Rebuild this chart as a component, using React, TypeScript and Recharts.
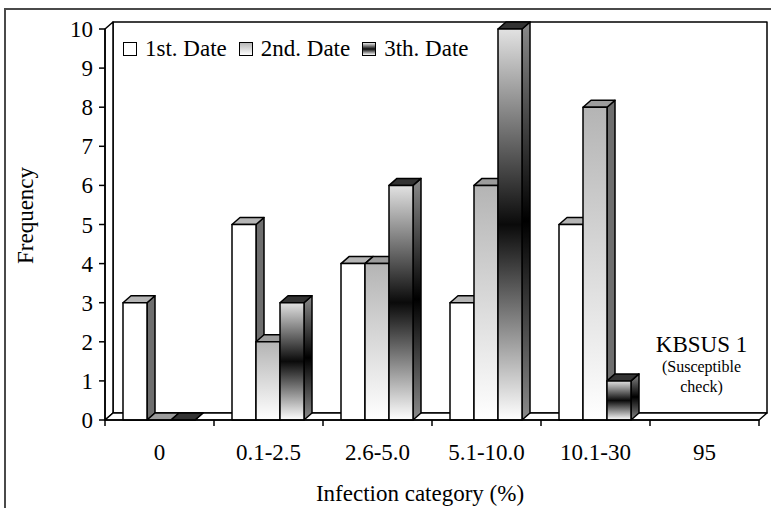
import React from 'react';
import { BarChart, Bar, XAxis, YAxis, Legend, ReferenceArea, ReferenceDot, Label } from 'recharts';

// Frequency of plants per infection category, for three assessment dates
const categories = ['0', '0.1-2.5', '2.6-5.0', '5.1-10.0', '10.1-30', '95'];
const firstDate: (number | null)[] = [3, 5, 4, 3, 5, null];
const secondDate: (number | null)[] = [0, 2, 4, 6, 8, null];
const thirdDate: (number | null)[] = [0, 3, 6, 10, 1, null];
const yTicks = [0, 1, 2, 3, 4, 5, 6, 7, 8, 9, 10];
const seriesNames = ['1st. Date', '2nd. Date', '3th. Date'];

const data = categories.map((category, i) => ({
  category,
  d1: firstDate[i],
  d2: secondDate[i],
  d3: thirdDate[i],
}));

const FONT = '"Liberation Serif", "Times New Roman", serif';
const DX = 8; // depth offset to the right
const DY = 7; // depth offset upward

// 3D column: front face, right side and top
function Box3D(props: any) {
  const { x, y, width, height, payload, k, front, side, top } = props;
  if (!payload || payload[k] == null || !isFinite(x) || !isFinite(y)) return null;
  const r = x + width;
  const b = y + height;
  return (
    <g stroke="#000" strokeWidth={1.5} strokeLinejoin="round">
      <polygon points={`${r},${y} ${r + DX},${y - DY} ${r + DX},${b - DY} ${r},${b}`} fill={side} />
      <polygon points={`${x},${y} ${x + DX},${y - DY} ${r + DX},${y - DY} ${r},${y}`} fill={top} />
      <rect x={x} y={y} width={width} height={Math.max(height, 0)} fill={front} />
    </g>
  );
}

// Back wall, side wall and floor of the 3D plot box
function Walls(props: any) {
  const { x, y, width, height } = props;
  const r = x + width;
  const b = y + height;
  return (
    <g stroke="#000" strokeWidth={1.5} fill="#fff" strokeLinejoin="round">
      <rect x={x + DX} y={y - DY} width={width} height={height} />
      <polygon points={`${x},${y} ${x + DX},${y - DY} ${x + DX},${b - DY} ${x},${b}`} />
      <polygon points={`${x},${b} ${x + DX},${b - DY} ${r + DX},${b - DY} ${r},${b}`} />
    </g>
  );
}

function XTick(props: any) {
  const { x, y, payload, index, visibleTicksCount } = props;
  const half = payload && payload.offset ? payload.offset : 0;
  const isLast = index === visibleTicksCount - 1;
  return (
    <g>
      <line x1={x - half} y1={y} x2={x - half} y2={y + 6} stroke="#000" strokeWidth={1.5} />
      {isLast && <line x1={x + half} y1={y} x2={x + half} y2={y + 6} stroke="#000" strokeWidth={1.5} />}
      <text x={x} y={y + 40} textAnchor="middle" fontFamily={FONT} fontSize={23} fill="#000">
        {payload.value}
      </text>
    </g>
  );
}

function YTick(props: any) {
  const { x, y, payload } = props;
  return (
    <text x={x} y={y + 8} textAnchor="end" fontFamily={FONT} fontSize={23} fill="#000">
      {payload.value}
    </text>
  );
}

const swatches = [
  '#ffffff',
  'linear-gradient(#b8b8b8, #ffffff)',
  'linear-gradient(#e6e6e6, #0a0a0a, #ffffff)',
];

function LegendContent(props: any) {
  const payload = props.payload || [];
  return (
    <div style={{ display: 'flex', alignItems: 'center', fontFamily: FONT, fontSize: 23, color: '#000', whiteSpace: 'nowrap', lineHeight: '26px' }}>
      {payload.map((entry: any, i: number) => (
        <span key={i} style={{ display: 'flex', alignItems: 'center', marginRight: 12 }}>
          <span
            style={{
              display: 'inline-block',
              width: 14,
              height: 14,
              boxSizing: 'border-box',
              border: '1.5px solid #000',
              background: swatches[i],
              marginRight: 8,
            }}
          />
          {entry.value}
        </span>
      ))}
    </div>
  );
}

function YLabel(props: any) {
  const vb = props.viewBox;
  const cx = vb.x - 12;
  const cy = vb.y + vb.height / 2 - 9;
  return (
    <text x={cx} y={cy} transform={`rotate(-90, ${cx}, ${cy})`} textAnchor="middle" fontFamily={FONT} fontSize={23} fill="#000">
      Frequency
    </text>
  );
}

function XLabel(props: any) {
  const vb = props.viewBox;
  return (
    <text x={vb.x + vb.width / 2 - 12} y={vb.y + 81} textAnchor="middle" fontFamily={FONT} fontSize={23} fill="#000">
      Infection category (%)
    </text>
  );
}

function Annotation(props: any) {
  const { cx, cy } = props;
  if (cx == null || cy == null) return null;
  const x = cx - 3;
  return (
    <g fontFamily={FONT} fill="#000" textAnchor="middle">
      <text x={x} y={cy + 10} fontSize={23}>KBSUS 1</text>
      <text x={x} y={cy + 30} fontSize={16}>(Susceptible</text>
      <text x={x} y={cy + 50} fontSize={16}>check)</text>
    </g>
  );
}

export default function App() {
  return (
    <div style={{ position: 'absolute', left: 0, top: 0, width: 771, height: 508, background: '#fff' }}>
      <div
        style={{
          position: 'absolute',
          left: 4,
          top: 8,
          width: 767,
          height: 500,
          boxSizing: 'border-box',
          borderTop: '2px solid #4a4a4a',
          borderLeft: '2px solid #4a4a4a',
        }}
      />
      <BarChart
        width={771}
        height={508}
        data={data}
        margin={{ top: 29, right: 12, bottom: 48, left: 45 }}
        barCategoryGap={18}
        barGap={0}
      >
        <defs>
          <linearGradient id="g2front" x1="0" y1="0" x2="0" y2="1">
            <stop offset="0%" stopColor="#b4b4b4" />
            <stop offset="100%" stopColor="#ffffff" />
          </linearGradient>
          <linearGradient id="g3front" x1="0" y1="0" x2="0" y2="1">
            <stop offset="0%" stopColor="#e2e2e2" />
            <stop offset="50%" stopColor="#0a0a0a" />
            <stop offset="100%" stopColor="#ffffff" />
          </linearGradient>
          <linearGradient id="g3side" x1="0" y1="0" x2="0" y2="1">
            <stop offset="0%" stopColor="#8a8a8a" />
            <stop offset="50%" stopColor="#000000" />
            <stop offset="100%" stopColor="#8a8a8a" />
          </linearGradient>
        </defs>
        <ReferenceArea y1={0} y2={10} shape={(p: any) => <Walls {...p} />} ifOverflow="visible" />
        <XAxis
          dataKey="category"
          interval={0}
          height={40}
          tickSize={0}
          tickMargin={0}
          axisLine={{ stroke: '#000', strokeWidth: 1.5 }}
          tickLine={false}
          tick={<XTick />}
        >
          <Label content={<XLabel />} />
        </XAxis>
        <YAxis
          domain={[0, 10]}
          ticks={yTicks}
          interval={0}
          width={60}
          tickSize={6}
          tickMargin={6}
          axisLine={{ stroke: '#000', strokeWidth: 1.5 }}
          tickLine={{ stroke: '#000', strokeWidth: 1.5 }}
          tick={<YTick />}
        >
          <Label content={<YLabel />} />
        </YAxis>
        <Legend
          layout="horizontal"
          verticalAlign="middle"
          align="center"
          content={<LegendContent />}
          wrapperStyle={{ left: 123, top: 36, width: 'auto' }}
        />
        <Bar
          dataKey="d1"
          name={seriesNames[0]}
          fill="#ffffff"
          isAnimationActive={false}
          shape={(p: any) => <Box3D {...p} k="d1" front="#ffffff" side="#6e6e6e" top="#b5b5b5" />}
        />
        <Bar
          dataKey="d2"
          name={seriesNames[1]}
          fill="#cccccc"
          isAnimationActive={false}
          shape={(p: any) => <Box3D {...p} k="d2" front="url(#g2front)" side="#6e6e6e" top="#9c9c9c" />}
        />
        <Bar
          dataKey="d3"
          name={seriesNames[2]}
          fill="#333333"
          isAnimationActive={false}
          shape={(p: any) => <Box3D {...p} k="d3" front="url(#g3front)" side="url(#g3side)" top="#333333" />}
        />
        <ReferenceDot x="95" y={2} r={0} ifOverflow="visible" shape={(p: any) => <Annotation {...p} />} />
      </BarChart>
    </div>
  );
}
